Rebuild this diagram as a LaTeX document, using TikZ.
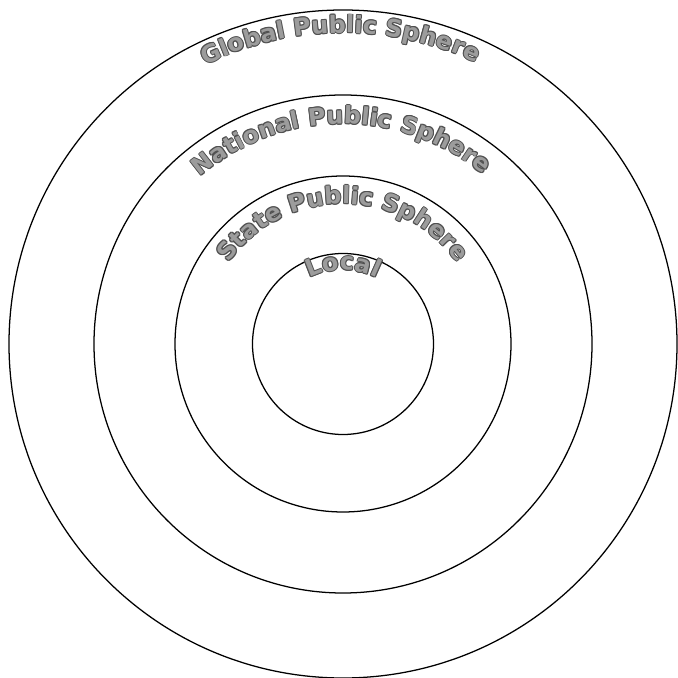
\documentclass[tikz,border=0pt]{standalone}
\usepackage{fontspec}
\usetikzlibrary{decorations.text}
\newfontfamily\spherefont{DejaVu Sans}
\newcommand\ringfont{\spherefont\bfseries\fontsize{17}{17}\selectfont}
\definecolor{ringtext}{HTML}{9C9C9C}
\definecolor{ringedge}{HTML}{505050}

\begin{document}
\begin{tikzpicture}[
  ring/.style={draw=black,line width=0.9pt},
  ringlabel/.style={decorate,decoration={text along path,text={|\ringfont|#1},
    text align=center,text color=ringtext}},
  ringedge/.style={decoration={text color=ringedge},shift={(#1:0.7pt)}}]
  \useasboundingbox (-8.575,-8.35) rectangle (8.375,8.6);
  \coordinate (c) at (0,0);
  % the four spheres
  \foreach \r in {8.35,6.225,4.2,2.2625}
    \draw[ring] (c) circle[radius=\r];
  % labels along the rings: dark copies for the rim, grey on top
  \foreach \r/\a/\b/\t in {7.775/118/63/Global Public Sphere,
                          5.5/131/50/National Public Sphere,
                          3.5/150/30/State Public Sphere,
                          1.85/125/55/Local}{
    \foreach \d in {0,45,...,315}
      \path[ringlabel/.expanded=\t,ringedge=\d] (\a:\r) arc[start angle=\a,end angle=\b,radius=\r];
    \path[ringlabel/.expanded=\t] (\a:\r) arc[start angle=\a,end angle=\b,radius=\r];
  }
\end{tikzpicture}
\end{document}
